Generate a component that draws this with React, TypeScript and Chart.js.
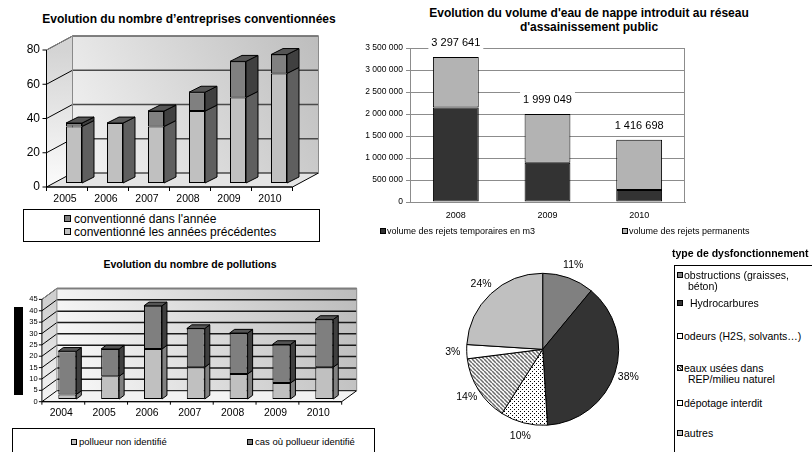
import React, { useEffect, useRef } from 'react';
import { Chart, registerables } from 'chart.js';

Chart.register(...registerables);

const FONT = '"Liberation Sans", Arial, sans-serif';
Chart.defaults.font.family = FONT;

// ---- Chart 1: entreprises conventionnées ----
const years1 = ['2005', '2006', '2007', '2008', '2009', '2010'];
const convPrecedentes = [33, 35, 33, 42, 50, 64];
const convAnnee = [2, 0, 9, 11, 21, 11];
const yTicks1 = [0, 20, 40, 60, 80];

// ---- Chart 2: volume d'eau de nappe ----
const years2 = ['2008', '2009', '2010'];
const rejetsTemporaires = [2150000, 893000, 273000];
const rejetsPermanents = [1147641, 1106049, 1143698];

// ---- Chart 3: pollutions ----
const years3 = ['2004', '2005', '2006', '2007', '2008', '2009', '2010'];
const pollueurNonIdentifie = [2, 10, 22, 14, 11, 7, 14];
const pollueurIdentifie = [19, 12, 19, 17, 18, 17, 21];
const yTicks3 = [0, 5, 10, 15, 20, 25, 30, 35, 40, 45];

// ---- Chart 4: type de dysfonctionnement ----
const dysLabels = [
  'obstructions (graisses, béton)',
  'Hydrocarbures',
  'odeurs (H2S, solvants…)',
  'eaux usées dans REP/milieu naturel',
  'dépotage interdit',
  'autres',
];
const dysValues = [11, 38, 10, 14, 3, 24];

const fmt = (n: number) => String(Math.round(n)).replace(/\B(?=(\d{3})+(?!\d))/g, ' ');

type ThreeD = {
  front: [number, number];
  wall: [number, number];
  depth: [number, number];
  sides: string[];
  tops: string[];
  wallTop: string;
  wallBottom: string;
  sideTop: string;
  sideBottom: string;
  floor: string;
  wallGrid: string;
  wallGridWidth: number;
  yTicks: number[];
  yFont: number;
  yLabelRight: number;
  xFont: number;
  xLabelY: number;
  tickLen: number;
};

function threeDPlugin(g: ThreeD) {
  return {
    id: 'threeD',
    beforeDatasetsDraw(chart: any) {
      const { ctx, chartArea: a, scales } = chart;
      const ys = scales.y;
      const xs = scales.x;
      const [fx, fy] = g.front;
      const [wx, wy] = g.wall;
      const max = g.yTicks[g.yTicks.length - 1];
      const L = a.left + fx;
      const R = a.right + fx;
      const WL = a.left + wx;
      const WR = a.right + wx;
      const yF = (v: number) => ys.getPixelForValue(v) + fy;
      const yW = (v: number) => ys.getPixelForValue(v) + wy;
      ctx.save();
      let gr = ctx.createLinearGradient(WR, yW(max), WL, yW(0));
      gr.addColorStop(0, g.wallTop);
      gr.addColorStop(1, g.wallBottom);
      ctx.fillStyle = gr;
      ctx.fillRect(WL, yW(max), WR - WL, yW(0) - yW(max));
      gr = ctx.createLinearGradient(0, yF(max), 0, yF(0));
      gr.addColorStop(0, g.sideTop);
      gr.addColorStop(1, g.sideBottom);
      ctx.fillStyle = gr;
      ctx.beginPath();
      ctx.moveTo(L, yF(0));
      ctx.lineTo(L, yF(max));
      ctx.lineTo(WL, yW(max));
      ctx.lineTo(WL, yW(0));
      ctx.closePath();
      ctx.fill();
      ctx.beginPath();
      ctx.moveTo(L, yF(0));
      ctx.lineTo(R, yF(0));
      ctx.lineTo(WR, yW(0));
      ctx.lineTo(WL, yW(0));
      ctx.closePath();
      ctx.fillStyle = g.floor;
      ctx.fill();
      ctx.strokeStyle = '#000';
      ctx.lineWidth = 1;
      ctx.stroke();
      g.yTicks.forEach((v) => {
        if (v === 0) return;
        ctx.strokeStyle = g.wallGrid;
        ctx.lineWidth = g.wallGridWidth;
        ctx.beginPath();
        ctx.moveTo(WL, yW(v));
        ctx.lineTo(WR, yW(v));
        ctx.stroke();
        ctx.strokeStyle = '#000';
        ctx.lineWidth = 1;
        ctx.beginPath();
        ctx.moveTo(L, yF(v));
        ctx.lineTo(WL, yW(v));
        ctx.stroke();
      });
      ctx.strokeStyle = '#8a8a8a';
      ctx.lineWidth = 1;
      ctx.beginPath();
      ctx.moveTo(L, yF(max));
      ctx.lineTo(WL, yW(max));
      ctx.lineTo(WR, yW(max));
      ctx.lineTo(WR, yW(0));
      ctx.moveTo(WL, yW(max));
      ctx.lineTo(WL, yW(0));
      ctx.stroke();
      ctx.strokeStyle = '#000';
      ctx.beginPath();
      ctx.moveTo(L, yF(max));
      ctx.lineTo(L, yF(0));
      ctx.lineTo(R, yF(0));
      ctx.stroke();
      ctx.fillStyle = '#000';
      ctx.font = `${g.yFont}px ${FONT}`;
      ctx.textAlign = 'right';
      ctx.textBaseline = 'middle';
      g.yTicks.forEach((v) => {
        const yy = yF(v);
        ctx.beginPath();
        ctx.moveTo(L - g.tickLen, yy);
        ctx.lineTo(L, yy);
        ctx.stroke();
        ctx.fillText(String(v), g.yLabelRight, yy);
      });
      const n = chart.data.labels.length;
      const cw = (a.right - a.left) / n;
      for (let k = 0; k <= n; k++) {
        const xx = L + k * cw;
        ctx.beginPath();
        ctx.moveTo(xx, yF(0));
        ctx.lineTo(xx, yF(0) + g.tickLen);
        ctx.stroke();
      }
      ctx.font = `${g.xFont}px ${FONT}`;
      ctx.textAlign = 'center';
      chart.data.labels.forEach((lab: string, i: number) => {
        ctx.fillText(lab, xs.getPixelForValue(i) + fx - 2, g.xLabelY);
      });
      ctx.restore();
    },
    afterDatasetsDraw(chart: any) {
      const { ctx } = chart;
      const [dx, dy] = g.depth;
      const n = chart.data.labels.length;
      const dsets = chart.data.datasets;
      ctx.save();
      ctx.strokeStyle = '#000';
      ctx.lineWidth = 1;
      ctx.lineJoin = 'round';
      for (let i = 0; i < n; i++) {
        let topDs = -1;
        dsets.forEach((d: any, k: number) => {
          if (d.data[i] > 0) topDs = k;
        });
        dsets.forEach((d: any, k: number) => {
          if (!(d.data[i] > 0)) return;
          const el = chart.getDatasetMeta(k).data[i];
          const p = el.getProps(['x', 'y', 'base', 'width'], true);
          const left = p.x - p.width / 2;
          const right = p.x + p.width / 2;
          const top = Math.min(p.y, p.base);
          const bot = Math.max(p.y, p.base);
          ctx.fillStyle = g.sides[k];
          ctx.beginPath();
          ctx.moveTo(right, top);
          ctx.lineTo(right + dx, top + dy);
          ctx.lineTo(right + dx, bot + dy);
          ctx.lineTo(right, bot);
          ctx.closePath();
          ctx.fill();
          ctx.stroke();
          if (k === topDs) {
            ctx.fillStyle = g.tops[k];
            ctx.beginPath();
            ctx.moveTo(left, top);
            ctx.lineTo(left + dx, top + dy);
            ctx.lineTo(right + dx, top + dy);
            ctx.lineTo(right, top);
            ctx.closePath();
            ctx.fill();
            ctx.stroke();
          }
        });
      }
      ctx.restore();
    },
  };
}

function make3DConfig(
  labels: string[],
  series: { label: string; data: number[]; color: string }[],
  max: number,
  padding: { left: number; right: number; top: number; bottom: number },
  barPct: number,
  g: ThreeD
): any {
  return {
    type: 'bar',
    data: {
      labels,
      datasets: series.map((s) => ({
        label: s.label,
        data: s.data,
        backgroundColor: s.color,
        borderColor: '#000',
        borderWidth: 1,
        borderSkipped: false,
        barPercentage: barPct,
        categoryPercentage: 1,
      })),
    },
    options: {
      animation: false,
      responsive: false,
      devicePixelRatio: 1,
      layout: { padding },
      plugins: { legend: { display: false }, title: { display: false }, tooltip: { enabled: false } },
      scales: {
        x: { display: false, stacked: true },
        y: { display: false, stacked: true, min: 0, max },
      },
    },
    plugins: [threeDPlugin(g)],
  };
}

function makePattern(kind: 'dots' | 'hatch'): CanvasPattern | string {
  const c = document.createElement('canvas');
  c.width = 4;
  c.height = 4;
  const x = c.getContext('2d');
  if (!x) return '#fff';
  x.fillStyle = '#fff';
  x.fillRect(0, 0, 4, 4);
  if (kind === 'dots') {
    x.fillStyle = '#000';
    x.fillRect(0, 0, 1, 1);
    x.fillRect(2, 2, 1, 1);
  } else {
    x.strokeStyle = '#6a6a6a';
    x.lineWidth = 1.5;
    for (const o of [-4, 0, 4]) {
      x.beginPath();
      x.moveTo(o, 0);
      x.lineTo(o + 4, 4);
      x.stroke();
    }
  }
  return x.createPattern(c, 'repeat') || '#fff';
}

const Txt = ({ x, y, size, bold, center, children }: any) => (
  <div
    style={{
      position: 'absolute',
      left: x,
      top: y,
      transform: center ? 'translate(-50%, -50%)' : 'translateY(-50%)',
      fontSize: size,
      fontWeight: bold ? 'bold' : 'normal',
      whiteSpace: 'nowrap',
      lineHeight: 1,
      color: '#000',
    }}
  >
    {children}
  </div>
);

const Sq = ({ x, y, size, bg }: any) => (
  <div
    style={{
      position: 'absolute',
      left: x,
      top: y - size / 2,
      width: size,
      height: size,
      boxSizing: 'border-box',
      border: '1px solid #000',
      background: bg,
    }}
  />
);

export default function App() {
  const r1 = useRef<HTMLCanvasElement>(null);
  const r2 = useRef<HTMLCanvasElement>(null);
  const r3 = useRef<HTMLCanvasElement>(null);
  const r4 = useRef<HTMLCanvasElement>(null);

  useEffect(() => {
    const charts: Chart[] = [];

    charts.push(
      new Chart(
        r1.current as HTMLCanvasElement,
        make3DConfig(
          years1,
          [
            { label: 'conventionné les années précédentes', data: convPrecedentes, color: '#c0c0c0' },
            { label: "conventionné dans l'année", data: convAnnee, color: '#808080' },
          ],
          80,
          { left: 53.5, right: 40.5, top: 46, bottom: 22 },
          0.39,
          {
            front: [-7, 4],
            wall: [19, -10],
            depth: [12, -6],
            sides: ['#5f5f5f', '#404040'],
            tops: ['#5a5a5a', '#555555'],
            wallTop: '#bdbdbd',
            wallBottom: '#f4f4f4',
            sideTop: '#d4d4d4',
            sideBottom: '#fbfbfb',
            floor: '#e4e4e4',
            wallGrid: '#4a4a4a',
            wallGridWidth: 1.5,
            yTicks: yTicks1,
            yFont: 12,
            yLabelRight: 40,
            xFont: 10.5,
            xLabelY: 199,
            tickLen: 4,
          }
        )
      )
    );

    const totalsPlugin = {
      id: 'totals',
      beforeDatasetsDraw(chart: any) {
        const { ctx, chartArea: a } = chart;
        ctx.save();
        ctx.strokeStyle = '#8c8c8c';
        ctx.lineWidth = 1;
        ctx.strokeRect(a.left + 0.5, a.top + 0.5, a.right - a.left - 1, a.bottom - a.top);
        ctx.restore();
      },
      afterDraw(chart: any) {
        const { ctx } = chart;
        const meta = chart.getDatasetMeta(1);
        ctx.save();
        ctx.font = `11px ${FONT}`;
        ctx.textAlign = 'center';
        ctx.textBaseline = 'middle';
        meta.data.forEach((el: any, i: number) => {
          const total = rejetsTemporaires[i] + rejetsPermanents[i];
          const t = fmt(total);
          const w = ctx.measureText(t).width;
          const cy = el.y - 14;
          ctx.fillStyle = '#fff';
          ctx.fillRect(el.x - w / 2 - 3, cy - 8, w + 6, 16);
          ctx.fillStyle = '#000';
          ctx.fillText(t, el.x, cy);
        });
        ctx.restore();
      },
    };

    charts.push(
      new Chart(r2.current as HTMLCanvasElement, {
        type: 'bar',
        data: {
          labels: years2,
          datasets: [
            {
              label: 'volume des rejets temporaires en m3',
              data: rejetsTemporaires,
              backgroundColor: '#333333',
              borderColor: '#000',
              borderWidth: 1,
              borderSkipped: false,
              barPercentage: 0.5,
              categoryPercentage: 1,
            },
            {
              label: 'volume des rejets permanents',
              data: rejetsPermanents,
              backgroundColor: '#b3b3b3',
              borderColor: '#000',
              borderWidth: 1,
              borderSkipped: false,
              barPercentage: 0.5,
              categoryPercentage: 1,
            },
          ],
        },
        options: {
          animation: false,
          responsive: false,
          devicePixelRatio: 1,
          layout: { padding: { left: 0, top: 48, right: 127, bottom: 18 } },
          plugins: { legend: { display: false }, title: { display: false }, tooltip: { enabled: false } },
          scales: {
            x: {
              stacked: true,
              grid: { display: false, drawTicks: false },
              border: { color: '#8c8c8c' },
              ticks: { font: { size: 9 }, color: '#000', padding: 8 },
              afterFit: (s: any) => {
                s.height = 20;
              },
            },
            y: {
              stacked: true,
              min: 0,
              max: 3500000,
              ticks: { stepSize: 500000, callback: (v: any) => fmt(Number(v)), font: { size: 8.5 }, color: '#000', padding: 3 },
              grid: { color: '#8c8c8c', tickLength: 4 },
              border: { color: '#8c8c8c' },
              afterFit: (s: any) => {
                s.width = 50;
              },
            },
          },
        },
        plugins: [totalsPlugin],
      } as any)
    );

    charts.push(
      new Chart(
        r3.current as HTMLCanvasElement,
        make3DConfig(
          years3,
          [
            { label: 'pollueur non identifié', data: pollueurNonIdentifie, color: '#c0c0c0' },
            { label: 'cas où pollueur identifié', data: pollueurIdentifie, color: '#7f7f7f' },
          ],
          45,
          { left: 45.9, right: 54.3, top: 46.7, bottom: 26 },
          0.42,
          {
            front: [-4, 2.7],
            wall: [11, -8.3],
            depth: [5, -3.7],
            sides: ['#808080', '#3f3f3f'],
            tops: ['#606060', '#555555'],
            wallTop: '#bcbcbc',
            wallBottom: '#fafafa',
            sideTop: '#cfcfcf',
            sideBottom: '#f4f4f4',
            floor: '#f2f2f2',
            wallGrid: '#1a1a1a',
            wallGridWidth: 1.5,
            yTicks: yTicks3,
            yFont: 7.5,
            yLabelRight: 37.7,
            xFont: 10.4,
            xLabelY: 163,
            tickLen: 3,
          }
        )
      )
    );

    const pieLabels = {
      id: 'pieLabels',
      afterDatasetsDraw(chart: any) {
        const { ctx } = chart;
        const meta = chart.getDatasetMeta(0);
        const data = chart.data.datasets[0].data as number[];
        const total = data.reduce((s, v) => s + v, 0);
        ctx.save();
        ctx.font = `10.5px ${FONT}`;
        ctx.fillStyle = '#000';
        ctx.textAlign = 'center';
        ctx.textBaseline = 'middle';
        meta.data.forEach((arc: any, i: number) => {
          const p = arc.getProps(['x', 'y', 'startAngle', 'endAngle', 'outerRadius'], true);
          const mid = (p.startAngle + p.endAngle) / 2;
          const r = p.outerRadius + 14;
          ctx.fillText(Math.round((data[i] / total) * 100) + '%', p.x + Math.cos(mid) * r, p.y + Math.sin(mid) * r);
        });
        ctx.restore();
      },
    };

    charts.push(
      new Chart(r4.current as HTMLCanvasElement, {
        type: 'pie',
        data: {
          labels: dysLabels,
          datasets: [
            {
              data: dysValues,
              backgroundColor: ['#808080', '#333333', makePattern('dots'), makePattern('hatch'), '#ffffff', '#c0c0c0'],
              borderColor: '#000',
              borderWidth: 1,
              radius: 76,
            },
          ],
        },
        options: {
          animation: false,
          responsive: false,
          devicePixelRatio: 1,
          layout: { padding: { left: 66.7, top: 18.3, right: 51.3, bottom: 26.7 } },
          plugins: { legend: { display: false }, title: { display: false }, tooltip: { enabled: false } },
        },
        plugins: [pieLabels],
      } as any)
    );

    return () => charts.forEach((c) => c.destroy());
  }, []);

  const dotsBg = 'radial-gradient(circle, #000 35%, transparent 40%) 0 0 / 2px 2px, #fff';
  const hatchBg = 'repeating-linear-gradient(45deg, #666 0 1px, #fff 1px 2px)';

  return (
    <div
      style={{
        position: 'absolute',
        left: 0,
        top: 0,
        width: 812,
        height: 452,
        overflow: 'hidden',
        background: '#fff',
        fontFamily: FONT,
      }}
    >
      {/* Chart 1 */}
      <Txt x={189} y={19} size={12} bold center>
        Evolution du nombre d’entreprises conventionnées
      </Txt>
      <canvas ref={r1} width={340} height={205} style={{ position: 'absolute', left: 0, top: 0, width: 340, height: 205 }} />
      <div
        style={{
          position: 'absolute',
          left: 23,
          top: 209,
          width: 297,
          height: 33,
          boxSizing: 'border-box',
          border: '1px solid #000',
        }}
      />
      <Sq x={64} y={218.5} size={7} bg="#808080" />
      <Txt x={74} y={218.5} size={12}>
        conventionné dans l'année
      </Txt>
      <Sq x={64} y={231.7} size={7} bg="#c0c0c0" />
      <Txt x={74} y={231.7} size={12}>
        conventionné les années précédentes
      </Txt>

      {/* Chart 2 */}
      <Txt x={589} y={13} size={12} bold center>
        Evolution du volume d'eau de nappe introduit au réseau
      </Txt>
      <Txt x={589} y={27} size={12} bold center>
        d'assainissement public
      </Txt>
      <canvas ref={r2} width={452} height={240} style={{ position: 'absolute', left: 360, top: 0, width: 452, height: 240 }} />
      <Sq x={380} y={230.5} size={6} bg="#333333" />
      <Txt x={387} y={230.5} size={9}>
        volume des rejets temporaires en m3
      </Txt>
      <Sq x={622} y={230.5} size={6} bg="#b3b3b3" />
      <Txt x={629} y={230.5} size={9}>
        volume des rejets permanents
      </Txt>

      {/* Chart 3 */}
      <Txt x={190} y={264} size={10.5} bold center>
        Evolution du nombre de pollutions
      </Txt>
      <div style={{ position: 'absolute', left: 14, top: 307, width: 9, height: 88, background: '#000' }} />
      <canvas ref={r3} width={400} height={175} style={{ position: 'absolute', left: 0, top: 250, width: 400, height: 175 }} />
      <div
        style={{
          position: 'absolute',
          left: 12,
          top: 428,
          width: 363,
          height: 40,
          boxSizing: 'border-box',
          border: '1px solid #000',
        }}
      />
      <Sq x={71} y={441.7} size={6} bg="#c0c0c0" />
      <Txt x={79} y={441.7} size={9.5}>
        pollueur non identifié
      </Txt>
      <Sq x={247} y={441.7} size={6} bg="#7f7f7f" />
      <Txt x={255} y={441.7} size={9.5}>
        cas où pollueur identifié
      </Txt>

      {/* Chart 4 */}
      <canvas ref={r4} width={270} height={197} style={{ position: 'absolute', left: 400, top: 255, width: 270, height: 197 }} />
      <Txt x={672} y={253} size={10.5} bold>
        type de dysfonctionnement
      </Txt>
      <div
        style={{
          position: 'absolute',
          left: 674,
          top: 265,
          width: 160,
          height: 200,
          boxSizing: 'border-box',
          border: '1px solid #000',
        }}
      />
      <Sq x={677} y={275} size={6} bg="#808080" />
      <Txt x={684} y={275} size={10.5}>
        obstructions (graisses,
      </Txt>
      <Txt x={688} y={286} size={10.5}>
        béton)
      </Txt>
      <Sq x={677} y={303} size={6} bg="#333333" />
      <Txt x={690} y={303} size={10.5}>
        Hydrocarbures
      </Txt>
      <Sq x={677} y={336} size={6} bg={dotsBg} />
      <Txt x={684} y={336} size={10.5}>
        odeurs (H2S, solvants…)
      </Txt>
      <Sq x={677} y={368} size={6} bg={hatchBg} />
      <Txt x={684} y={368} size={10.5}>
        eaux usées dans
      </Txt>
      <Txt x={688} y={379} size={10.5}>
        REP/milieu naturel
      </Txt>
      <Sq x={677} y={403} size={6} bg="#ffffff" />
      <Txt x={684} y={403} size={10.5}>
        dépotage interdit
      </Txt>
      <Sq x={677} y={433} size={6} bg="#c0c0c0" />
      <Txt x={684} y={433} size={10.5}>
        autres
      </Txt>
    </div>
  );
}
